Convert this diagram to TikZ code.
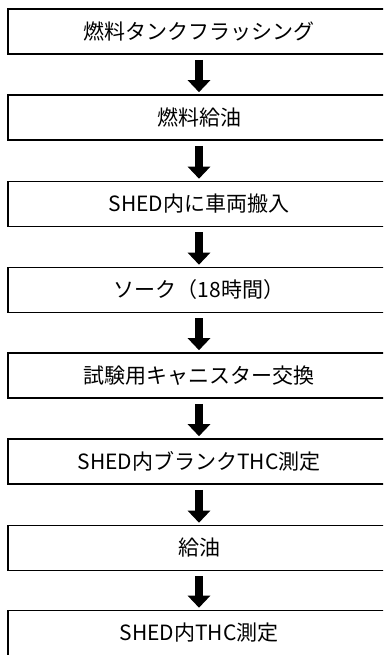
\documentclass[tikz,border=0pt]{standalone}
\usepackage{fontspec}
\setmainfont{Noto Sans CJK JP}
\usetikzlibrary{arrows.meta}
\tikzset{
  stepbox/.style={draw=black, line width=1.6pt, fill=white, minimum width=382pt, minimum height=45pt, inner sep=0pt, font=\fontsize{21pt}{24pt}\selectfont},
  flowarrow/.style={line width=8pt, -{Triangle[width=22pt,length=12pt]}}
}
\begin{document}
\begin{tikzpicture}[x=1pt,y=-1pt]
\useasboundingbox (0,0) rectangle (383,655);
\clip (0,0) rectangle (383,655);
\node[stepbox] (b1) at (199,31.5) {燃料タンクフラッシング};
\node[stepbox] (b2) at (199,117.5) {燃料給油};
\node[stepbox] (b3) at (199,204) {SHED内に車両搬入};
\node[stepbox] (b4) at (199,290) {ソーク（18時間）};
\node[stepbox] (b5) at (199,375.5) {試験用キャニスター交換};
\node[stepbox] (b6) at (199,461.5) {SHED内ブランクTHC測定};
\node[stepbox] (b7) at (199,548) {給油};
\node[stepbox] (b8) at (199,633) {SHED内THC測定};
\foreach \a/\b in {b1/b2,b2/b3,b3/b4,b4/b5,b5/b6,b6/b7,b7/b8}{
  \draw[flowarrow] ([yshift=-5pt]\a.south) -- ([yshift=2pt]\b.north);
}
\end{tikzpicture}
\end{document}
